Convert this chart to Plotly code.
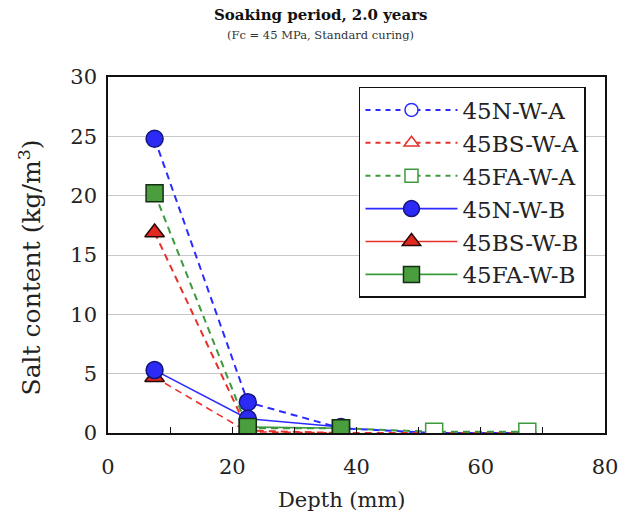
import plotly.graph_objects as go

# Measurement depths (mm)
depth_a = [7.5, 22.5, 37.5, 52.5, 67.5]
depth_b = [7.5, 22.5, 37.5]

# Salt content (kg/m3), series A (dashed) and series B (solid)
salt_45n_a = [24.8, 2.6, 0.4, 0.0, 0.0]
salt_45bs_a = [16.9, 0.2, 0.0, 0.0, 0.0]
salt_45fa_a = [20.2, 0.4, 0.4, 0.1, 0.1]
salt_45n_b = [5.3, 1.2, 0.5]
salt_45bs_b = [4.7, 0.1, 0.0]
salt_45fa_b = [None, 0.5, 0.4]

series_names = ["45N-W-A", "45BS-W-A", "45FA-W-A", "45N-W-B", "45BS-W-B", "45FA-W-B"]

x_ticks = [0, 20, 40, 60, 80]
y_ticks = [0, 5, 10, 15, 20, 25, 30]

SERIF = "DejaVu Serif"

BLUE = "#2b2bff"
RED = "#e8302a"
GREEN = "#3c9a3c"
styles = {
    "N": dict(line=BLUE, fill="#2b2bf5", edge="#14147a", symbol="circle", size=17),
    "BS": dict(line=RED, fill="#e3281f", edge="#2a0808", symbol="triangle-up", size=17),
    "FA": dict(line=GREEN, fill="#4a9e3e", edge="#142e14", symbol="square", size=17),
}

fig = go.Figure()

a_series = [("N", salt_45n_a), ("BS", salt_45bs_a), ("FA", salt_45fa_a)]
# BS drawn first so the N circle sits on top of it
b_series = [("BS", salt_45bs_b), ("N", salt_45n_b), ("FA", salt_45fa_b)]

# Series A: dashed lines; points at depths shared with B drawn filled
for key, vals in a_series:
    s = styles[key]
    fills = [s["fill"] if d in depth_b else "white" for d in depth_a]
    edges = [s["edge"] if d in depth_b else s["line"] for d in depth_a]
    fig.add_trace(go.Scatter(
        x=depth_a, y=vals, mode="lines+markers", showlegend=False,
        line=dict(color=s["line"], width=2, dash="7px,5px"),
        marker=dict(symbol=s["symbol"], size=s["size"], color=fills,
                    line=dict(color=edges, width=1.5)),
    ))

# Series B: low-content lines
for key, vals in b_series:
    s = styles[key]
    dash = "7px,5px" if key == "BS" else "solid"
    fig.add_trace(go.Scatter(
        x=depth_b, y=vals, mode="lines+markers", showlegend=False,
        line=dict(color=s["line"], width=1.6, dash=dash),
        marker=dict(symbol=s["symbol"], size=s["size"], color=s["fill"],
                    line=dict(color=s["edge"], width=1.5)),
    ))

# Legend entries
for name in series_names:
    key = name.split("-")[0][2:]
    s = styles[key]
    is_a = name.endswith("A")
    fig.add_trace(go.Scatter(
        x=[None], y=[None], mode="lines+markers", name=name,
        legendgroup=name,
        line=dict(color=s["line"], width=2 if is_a else 1.6,
                  dash="5px,5px" if is_a else "solid"),
        marker=dict(symbol=s["symbol"],
                    size=13 if is_a else 16,
                    color="white" if is_a else s["fill"],
                    line=dict(color=s["line"] if is_a else s["edge"], width=1.5)),
    ))

fig.update_layout(
    width=630, height=524,
    margin=dict(l=108, r=14, t=77, b=91),
    paper_bgcolor="white", plot_bgcolor="white",
    font=dict(family=SERIF, color="#222222"),
    showlegend=True,
    legend=dict(
        x=0.505, y=0.972, xanchor="left", yanchor="top",
        bgcolor="white", bordercolor="#111111", borderwidth=1.5,
        font=dict(family=SERIF, size=23, color="#222222"),
        itemwidth=92, tracegroupgap=1.5, traceorder="normal",
    ),
    xaxis=dict(
        range=[0, 80], tickvals=x_ticks, ticks="inside", ticklen=6,
        tickcolor="#111111", showgrid=False, zeroline=False,
        showline=True, linecolor="#111111", linewidth=1.5, mirror=True,
        tickfont=dict(family=SERIF, size=21, color="#222222"),
        ticklabelstandoff=14,
        minor=dict(dtick=10, ticks="inside", ticklen=6, tickcolor="#111111"),
    ),
    yaxis=dict(
        range=[0, 30], tickvals=y_ticks, ticks="", showgrid=True,
        gridcolor="#c8c8c8", gridwidth=1, zeroline=False,
        showline=True, linecolor="#111111", linewidth=1.5, mirror=True,
        tickfont=dict(family=SERIF, size=21, color="#222222"),
        ticklabelstandoff=5,
    ),
    annotations=[
        dict(text="<b>Soaking period, 2.0 years</b>", xref="paper", yref="paper",
             x=0.428, y=1.174, xanchor="center", yanchor="middle", showarrow=False,
             font=dict(family=SERIF, size=15, color="#111111")),
        dict(text="(Fc = 45 MPa, Standard curing)", xref="paper", yref="paper",
             x=0.428, y=1.118, xanchor="center", yanchor="middle", showarrow=False,
             font=dict(family=SERIF, size=11.5, color="#333333")),
        dict(text="Depth (mm)", xref="paper", yref="paper",
             x=0.47, y=-0.188, xanchor="center", yanchor="middle", showarrow=False,
             font=dict(family=SERIF, size=21, color="#222222")),
        dict(text="Salt content (kg/m<sup>3</sup>)", xref="paper", yref="paper",
             x=-0.157, y=0.465, xanchor="center", yanchor="middle", showarrow=False,
             textangle=-90, font=dict(family=SERIF, size=25, color="#222222")),
    ],
)

fig.write_html("out.html")
